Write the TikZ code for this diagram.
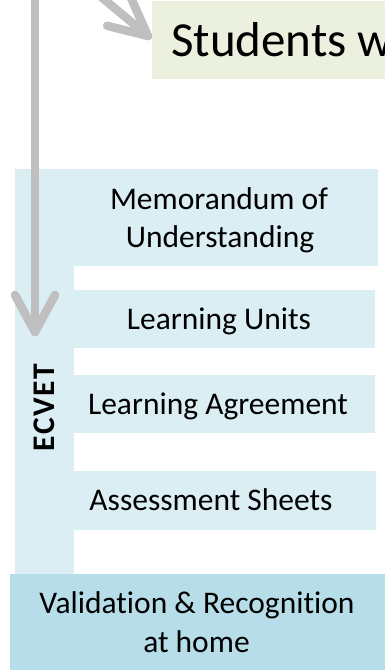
\documentclass[tikz,border=0pt]{standalone}
\usepackage{fontspec}
\setmainfont{Carlito}[Ligatures=NoCommon]
\usetikzlibrary{calc}
\definecolor{lblue}{HTML}{DAEEF3}
\definecolor{mblue}{HTML}{B7DDE8}
\definecolor{lgreen}{HTML}{EBF1DE}
\definecolor{agray}{HTML}{BFBFBF}
\tikzset{
  box/.style={fill=lblue, draw=none, inner sep=0pt, outer sep=0pt, anchor=north west},
  txt/.style={font=\fontsize{31.5}{38.5}\selectfont, inner sep=0pt, anchor=base},
  grayarrow/.style={draw=agray, line width=8.5pt, line cap=round, line join=round},
}
\begin{document}
\begin{tikzpicture}[x=1pt,y=-1pt]
\useasboundingbox (0,0) rectangle (385,670);
% green title box
\node[box, fill=lgreen, minimum width=240pt, minimum height=78pt] (title) at (152,1) {};
\node[anchor=base west, inner sep=0pt, font=\fontsize{49}{58}\selectfont] (titletxt) at (171,56) {Students w};
% ECVET column and item boxes
\node[box, minimum width=59pt, minimum height=405pt] (col) at (15,169) {};
\node[box, minimum width=304pt, minimum height=97pt] (memo) at (74,169) {};
\node[box, minimum width=301pt, minimum height=58pt] (units) at (74,290) {};
\node[box, minimum width=301pt, minimum height=58pt] (agree) at (74,375) {};
\node[box, minimum width=302pt, minimum height=59pt] (assess) at (74,471) {};
\node[box, fill=mblue, minimum width=380pt, minimum height=100pt] (valid) at (10,574) {};
% texts
\node[txt] (memo1) at (219,209) {Memorandum of};
\node[txt] (memo2) at (220,247.5) {Understanding};
\node[txt] (unitstxt) at (219,329) {Learning Units};
\node[txt] (agreetxt) at (218,414) {Learning Agreement};
\node[txt] (assesstxt) at (211,510.5) {Assessment Sheets};
\node[txt] (valid1) at (197,613) {Validation \& Recognition};
\node[txt] (valid2) at (196.5,652) {at home};
\node[txt, rotate=90, font=\fontsize{31.5}{38.5}\selectfont\bfseries\addfontfeatures{LetterSpace=5}] (ecvet) at (54,407.5) {ECVET};
% vertical arrow
\coordinate (vtop) at (35,-10);
\coordinate (vtip) at (35,332);
\draw[grayarrow] (vtop) -- (vtip);
\draw[grayarrow] ($(vtip)+(-20,-37)$) -- (vtip) -- ($(vtip)+(20,-37)$);
% diagonal arrow
\coordinate (dtip) at (148,36);
\coordinate (dtail) at (87,-15);
\draw[grayarrow] (dtail) -- (dtip);
\draw[grayarrow] ($(dtip)+(-40.8,-10.2)$) -- (dtip) -- ($(dtip)+(-17,-38)$);
\end{tikzpicture}
\end{document}
